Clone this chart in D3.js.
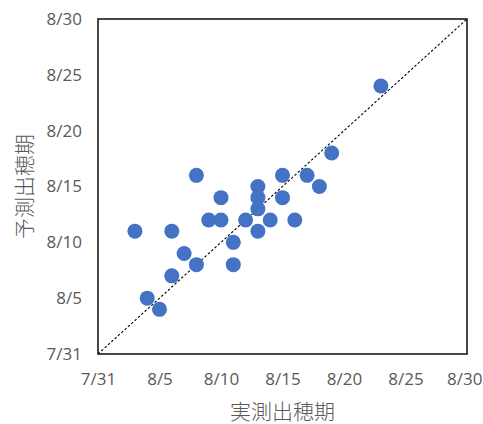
<!DOCTYPE html>
<html>
<head>
<meta charset="utf-8">
<script src="https://cdn.jsdelivr.net/npm/d3@7"></script>
<style>
  html, body { margin: 0; padding: 0; background: #fff; }
  svg { display: block; }
</style>
</head>
<body>
<svg id="chart" width="483" height="424"></svg>
<script>
// Data (month/day)
const actualDates = ["8/23","8/19","8/8","8/15","8/17","8/18","8/13","8/10","8/13","8/15","8/13","8/9","8/10","8/12","8/14","8/16","8/3","8/6","8/13","8/11","8/7","8/8","8/11","8/6","8/4","8/5"];
const predictedDates = ["8/24","8/18","8/16","8/16","8/16","8/15","8/15","8/14","8/14","8/14","8/13","8/12","8/12","8/12","8/12","8/12","8/11","8/11","8/11","8/10","8/9","8/8","8/8","8/7","8/5","8/4"];
const tickLabels = ["7/31","8/5","8/10","8/15","8/20","8/25","8/30"];
const axisDomain = ["7/31","8/30"];
const xTitle = "実測出穂期";
const yTitle = "予測出穂期";

const parse = s => d3.timeParse("%Y/%m/%d")("2021/" + s);
const fmt = d3.timeFormat("%-m/%-d");

const svg = d3.select("#chart");
const W = 483;
const plot = { left: 98, right: 467, top: 19, bottom: 354 };

const x = d3.scaleTime().domain(axisDomain.map(parse)).range([plot.left, plot.right]);
const y = d3.scaleTime().domain(axisDomain.map(parse)).range([plot.bottom, plot.top]);

const tickVals = tickLabels.map(parse);
const textColor = "#595959";
const tickFont = "'Open Sans', 'Noto Sans', sans-serif";
const cjkFont = "'Noto Sans CJK JP', sans-serif";

// X axis (labels only)
const xAxis = d3.axisBottom(x).tickValues(tickVals).tickFormat(fmt).tickSize(0).tickPadding(0);
const gx = svg.append("g").attr("transform", `translate(0,${plot.bottom + 25})`).call(xAxis);
gx.select(".domain").remove();
gx.selectAll("text").attr("fill", textColor).style("font-family", tickFont).style("font-size", "17px").attr("dy", "0.35em").attr("y", 0);
// keep the last label inside the canvas
gx.selectAll(".tick").filter((d, i, n) => i === n.length - 1).select("text")
  .attr("text-anchor", "end").attr("x", W - 1 - plot.right);

// Y axis (labels only)
const yAxis = d3.axisLeft(y).tickValues(tickVals).tickFormat(fmt).tickSize(0).tickPadding(0);
const gy = svg.append("g").attr("transform", `translate(${plot.left - 16},0)`).call(yAxis);
gy.select(".domain").remove();
gy.selectAll("text").attr("fill", textColor).style("font-family", tickFont).style("font-size", "17px").attr("x", 0);

// Diagonal 1:1 line
svg.append("line")
  .attr("x1", x(parse(axisDomain[0]))).attr("y1", y(parse(axisDomain[0])))
  .attr("x2", x(parse(axisDomain[1]))).attr("y2", y(parse(axisDomain[1])))
  .attr("stroke", "#000").attr("stroke-width", 1.1).attr("stroke-dasharray", "2.5,2");

// Points
const pts = actualDates.map((a, i) => ({ a: parse(a), p: parse(predictedDates[i]) }));
svg.append("g").selectAll("circle").data(pts).join("circle")
  .attr("cx", d => x(d.a))
  .attr("cy", d => y(d.p))
  .attr("r", 7.5)
  .attr("fill", "#4472C4");

// Frame
svg.append("rect")
  .attr("x", plot.left).attr("y", plot.top)
  .attr("width", plot.right - plot.left).attr("height", plot.bottom - plot.top)
  .attr("fill", "none").attr("stroke", "#1a1a1a").attr("stroke-width", 1.6);

// Axis titles
svg.append("text")
  .attr("x", (plot.left + plot.right) / 2).attr("y", 410)
  .attr("text-anchor", "middle").attr("dominant-baseline", "central")
  .attr("fill", textColor).style("font-family", cjkFont).style("font-size", "21px").style("font-weight", 300)
  .text(xTitle);

svg.append("text")
  .attr("transform", `translate(23,${(plot.top + plot.bottom) / 2}) rotate(-90)`)
  .attr("text-anchor", "middle").attr("dominant-baseline", "central")
  .attr("fill", textColor).style("font-family", cjkFont).style("font-size", "21px").style("font-weight", 300)
  .text(yTitle);
</script>
</body>
</html>
